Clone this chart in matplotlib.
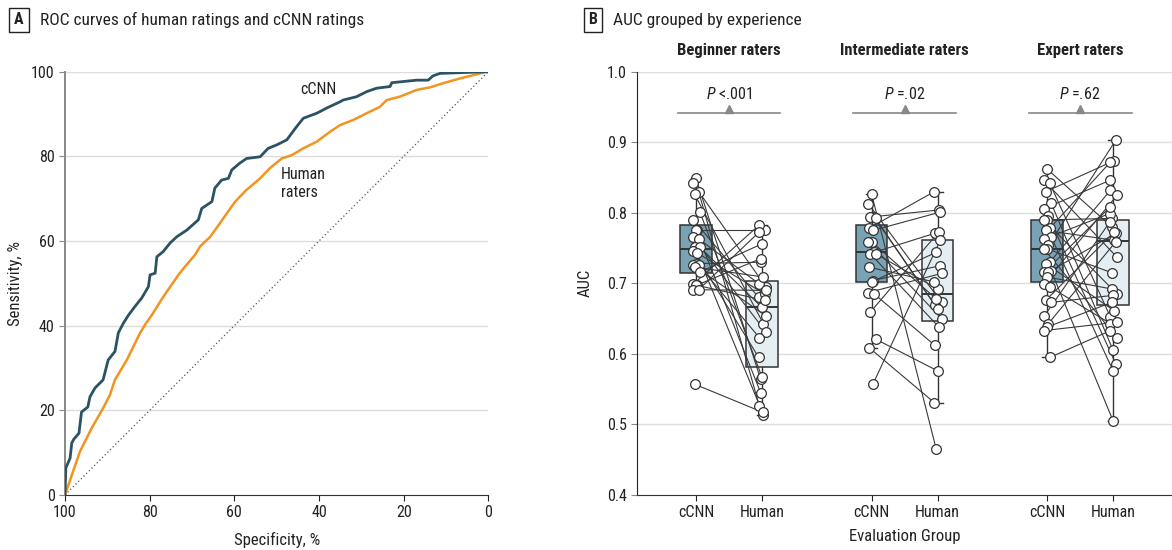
import matplotlib
matplotlib.use('Agg')
import matplotlib.pyplot as plt
from matplotlib import font_manager

# --- panel A: ROC curves (specificity %, sensitivity %)
ccnn_spec = [100, 99.8, 98.8, 98.4, 97.9, 96.7, 96.1, 94.6, 94.1, 92.9, 91.7, 91.0,
             89.8, 88.2, 87.4, 86.2, 85.0, 83.5, 81.9, 80.3, 79.9, 78.7, 78.3, 76.8,
             75.2, 73.6, 71.2, 68.5, 67.7, 65.3, 64.6, 63.0, 61.4, 60.6, 58.7, 57.1,
             53.9, 52.0, 50.0, 47.6, 45.3, 43.7, 40.5, 38.2, 35.0, 34.3, 31.1, 28.7,
             26.4, 23.2, 22.8, 16.9, 14.2, 13.1, 11.4, 0.4, 0]
ccnn_sens = [0, 6.4, 8.7, 12.3, 13.2, 14.6, 19.6, 20.8, 23.2, 25.3, 26.5, 27.2,
             31.9, 33.9, 38.3, 40.6, 42.5, 44.5, 46.5, 49.2, 52.0, 52.4, 56.3, 57.5,
             59.5, 61.0, 62.6, 65.0, 67.7, 69.3, 72.5, 74.4, 74.8, 76.8, 78.4, 79.5,
             79.9, 81.9, 82.7, 83.9, 87.0, 89.0, 90.2, 91.4, 92.9, 93.3, 94.1, 95.3,
             96.1, 96.5, 97.4, 98.0, 98.0, 99.0, 99.6, 100, 100]
human_spec = [100, 96.5, 93.7, 91.0, 89.4, 88.2, 85.4, 82.3, 81.1, 79.5, 76.8, 73.2,
              71.7, 69.3, 68.1, 65.7, 63.4, 61.8, 59.8, 57.1, 53.9, 51.6, 48.8, 46.4,
              43.7, 40.5, 37.4, 35.0, 31.9, 28.7, 25.6, 24.0, 20.9, 16.9, 13.8, 10.6,
              6.7, 3.5, 0.4, 0]
human_sens = [0, 10.2, 15.8, 20.5, 23.6, 27.2, 31.9, 38.2, 40.2, 42.5, 46.8, 52.0,
              53.9, 56.7, 58.7, 61.0, 64.2, 66.5, 69.3, 72.1, 74.8, 77.2, 79.5, 80.3,
              81.9, 83.5, 85.8, 87.4, 88.6, 90.2, 91.7, 93.3, 94.1, 95.7, 96.3, 97.3,
              98.4, 99.2, 100, 100]

# --- panel B: paired AUCs per rater (cCNN, human)
groups = ['Beginner raters', 'Intermediate raters', 'Expert raters']
p_values = ['<.001', '=.02', '=.62']

beg_ccnn = [0.849, 0.842, 0.830, 0.826, 0.801, 0.790, 0.775, 0.775, 0.766, 0.763,
            0.751, 0.751, 0.746, 0.743, 0.728, 0.726, 0.726, 0.723, 0.716, 0.699,
            0.697, 0.697, 0.691, 0.691, 0.557]
beg_human = [0.564, 0.695, 0.526, 0.643, 0.567, 0.680, 0.775, 0.545, 0.631, 0.699,
             0.514, 0.666, 0.595, 0.685, 0.730, 0.654, 0.623, 0.709, 0.756, 0.782,
             0.676, 0.735, 0.690, 0.773, 0.517]

int_ccnn = [0.827, 0.813, 0.794, 0.794, 0.792, 0.778, 0.775, 0.759, 0.759, 0.744,
            0.742, 0.742, 0.723, 0.704, 0.702, 0.687, 0.685, 0.659, 0.621, 0.609,
            0.557]
int_human = [0.465, 0.673, 0.669, 0.804, 0.664, 0.830, 0.801, 0.678, 0.650, 0.771,
             0.638, 0.692, 0.702, 0.725, 0.744, 0.714, 0.612, 0.773, 0.576, 0.531,
             0.761]

exp_ccnn = [0.862, 0.846, 0.842, 0.830, 0.814, 0.806, 0.795, 0.790, 0.790, 0.778,
            0.775, 0.766, 0.763, 0.754, 0.749, 0.749, 0.730, 0.728, 0.718, 0.716,
            0.716, 0.709, 0.699, 0.695, 0.676, 0.673, 0.654, 0.643, 0.638, 0.633,
            0.595]
exp_human = [0.780, 0.737, 0.652, 0.874, 0.605, 0.846, 0.586, 0.792, 0.685, 0.872,
             0.761, 0.576, 0.799, 0.903, 0.715, 0.623, 0.832, 0.661, 0.505, 0.808,
             0.771, 0.692, 0.825, 0.643, 0.773, 0.683, 0.787, 0.759, 0.673, 0.645,
             0.633]

# box summaries as drawn: cCNN box then human box for each group
box_q1 = [0.715, 0.582, 0.702, 0.647, 0.702, 0.669]
box_med = [0.749, 0.666, 0.744, 0.685, 0.749, 0.760]
box_q3 = [0.783, 0.703, 0.783, 0.761, 0.790, 0.790]
box_lo = [0.691, 0.514, 0.609, 0.531, 0.595, 0.505]
box_hi = [0.849, 0.782, 0.827, 0.830, 0.862, 0.903]

installed = {f.name for f in font_manager.fontManager.ttflist}
FONT = 'DejaVu Sans'
for fam in ['Liberation Sans Narrow', 'Roboto Condensed', 'Open Sans']:
    if fam in installed:
        FONT = fam
        break
plt.rcParams['font.family'] = [FONT, 'DejaVu Sans']
plt.rcParams['mathtext.fontset'] = 'custom'
plt.rcParams['mathtext.it'] = FONT + ':italic'
plt.rcParams['mathtext.rm'] = FONT

TXT = '#222222'
GRID = '#dcdcdc'
W, H = 1172, 550

fig = plt.figure(figsize=(W / 100, H / 100), dpi=100)

# ---------------- panel A
axA = fig.add_axes([65 / W, 55 / H, (488.3 - 65) / W, (495 - 71.7) / H])
axA.set_xlim(100, 0)
axA.set_ylim(0, 100)
for y in range(20, 101, 20):
    axA.axhline(y, color=GRID, lw=1, zorder=0)
axA.plot([100, 0], [0, 100], color='#555555', lw=0.9, ls=(0, (1, 2)), zorder=1)
axA.plot(human_spec, human_sens, color='#f39320', lw=1.8, zorder=2)
axA.plot(ccnn_spec, ccnn_sens, color='#2b5363', lw=2.0, zorder=3)
axA.text(44.5, 95.7, 'cCNN', fontsize=11.5, color=TXT, va='center', ha='left')
axA.text(49.0, 73.5, 'Human\nraters', fontsize=11.5, color=TXT, va='center', ha='left',
         linespacing=1.25)
axA.set_xticks(range(100, -1, -20))
axA.set_yticks(range(0, 101, 20))
axA.tick_params(labelsize=11.5, colors=TXT, length=4)
axA.tick_params(axis='y', color='#888888')
for s in ['top', 'right']:
    axA.spines[s].set_visible(False)
axA.spines['left'].set_color('#888888')
axA.spines['left'].set_linewidth(1.4)
axA.spines['bottom'].set_color('#333333')
axA.set_xlabel('Specificity, %', fontsize=12, color=TXT, labelpad=8)
axA.set_ylabel('Sensitivity, %', fontsize=12, color=TXT, labelpad=6)

# ---------------- panel B
x0 = 696
unit = 66.0
axB = fig.add_axes([637 / W, 55 / H, (W - 637) / W, (495 - 71.7) / H])
axB.set_xlim((637 - x0) / unit, (W - x0) / unit)
axB.set_ylim(0.4, 1.0)
for y in [0.5, 0.6, 0.7, 0.8, 0.9, 1.0]:
    axB.axhline(y, color=GRID, lw=1, zorder=0)

gap = 2.66
pos_c = [i * gap for i in range(3)]
pos_h = [i * gap + 1 for i in range(3)]
positions = [p for pair in zip(pos_c, pos_h) for p in pair]

stats = []
for i in range(6):
    stats.append(dict(q1=box_q1[i], med=box_med[i], q3=box_q3[i],
                      whislo=box_lo[i], whishi=box_hi[i], fliers=[]))
bp = axB.bxp(stats, positions=positions, widths=0.48, patch_artist=True,
             showfliers=False, capwidths=0.16,
             boxprops=dict(edgecolor='#333333', lw=1.1),
             medianprops=dict(color='#333333', lw=1.4),
             whiskerprops=dict(color='#333333', lw=1.0),
             capprops=dict(color='#333333', lw=1.0))
for k, patch in enumerate(bp['boxes']):
    patch.set_facecolor('#79a3b4' if k % 2 == 0 else '#e5eef2')
    patch.set_zorder(1)

jit = (0.0, -0.05, 0.04, -0.02, 0.06, -0.04, 0.02)
pairs = [(beg_ccnn, beg_human), (int_ccnn, int_human), (exp_ccnn, exp_human)]
for g, (cv, hv) in enumerate(pairs):
    xc = [pos_c[g] + jit[i % 7] for i in range(len(cv))]
    xh = [pos_h[g] + jit[(i + 3) % 7] for i in range(len(hv))]
    for i in range(len(cv)):
        axB.plot([xc[i], xh[i]], [cv[i], hv[i]], color='#3a3a3a', lw=0.8, zorder=3)
    axB.plot(xc, cv, 'o', ms=7, mfc='white', mec='#333333', mew=0.9, ls='none', zorder=4)
    axB.plot(xh, hv, 'o', ms=7, mfc='white', mec='#333333', mew=0.9, ls='none', zorder=4)

    mid = (pos_c[g] + pos_h[g]) / 2
    axB.plot([mid - 0.78, mid + 0.78], [0.942, 0.942], color='#888888', lw=1.2, zorder=2)
    axB.plot([mid], [0.9475], marker='^', ms=6, color='#888888', zorder=2)
    axB.text(mid, 0.968, r'$P$ ' + p_values[g], ha='center', va='center',
             fontsize=11.5, color=TXT)
    axB.text(mid, 1.030, groups[g], ha='center', va='center', fontsize=12,
             fontweight='bold', color=TXT, clip_on=False)

axB.set_xticks(positions)
axB.set_xticklabels(['cCNN', 'Human'] * 3)
axB.set_yticks([0.4, 0.5, 0.6, 0.7, 0.8, 0.9, 1.0])
axB.set_yticklabels(['0.4', '0.5', '0.6', '0.7', '0.8', '0.9', '1.0'])
axB.tick_params(labelsize=11.5, colors=TXT, length=4)
axB.tick_params(axis='y', color='#888888')
for s in ['top', 'right']:
    axB.spines[s].set_visible(False)
axB.spines['left'].set_color('#222222')
axB.spines['bottom'].set_color('#333333')
axB.set_xlabel('Evaluation Group', fontsize=12, color=TXT, labelpad=6)
axB.set_ylabel('AUC', fontsize=12, color=TXT, labelpad=10)

# ---------------- panel headings
box = dict(boxstyle='square,pad=0.3', fc='white', ec='#222222', lw=1)
fig.text(19 / W, 1 - 20 / H, 'A', fontsize=11.5, fontweight='bold', ha='center',
         va='center', color=TXT, bbox=box)
fig.text(40 / W, 1 - 20 / H, 'ROC curves of human ratings and cCNN ratings',
         fontsize=12.5, ha='left', va='center', color=TXT)
fig.text(593 / W, 1 - 20 / H, 'B', fontsize=11.5, fontweight='bold', ha='center',
         va='center', color=TXT, bbox=box)
fig.text(613 / W, 1 - 20 / H, 'AUC grouped by experience',
         fontsize=12.5, ha='left', va='center', color=TXT)

fig.savefig('out.png', dpi=100)
